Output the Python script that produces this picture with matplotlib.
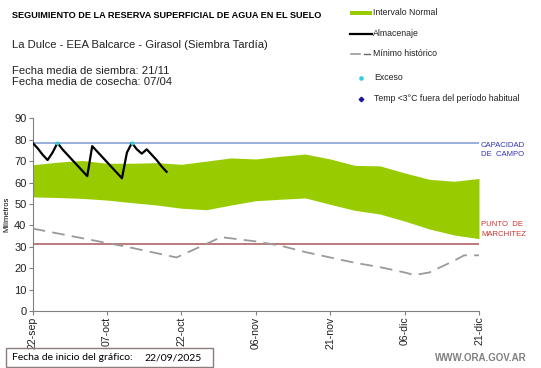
import matplotlib
matplotlib.use("Agg")
import matplotlib.pyplot as plt
from matplotlib.patches import Rectangle
from matplotlib.lines import Line2D

plt.rcParams['font.family'] = ['Liberation Sans', 'DejaVu Sans']

# ---- data ----
tick_days = [0, 15, 30, 45, 60, 75, 90]
tick_labels = ["22-sep", "07-oct", "22-oct", "06-nov", "21-nov", "06-dic", "21-dic"]

alm_days = list(range(28))
almacenaje = [78.5, 76, 73, 70.5, 74, 78.5, 75.5, 73, 70.5, 68, 65.5, 63,
              77, 74.5, 72, 69.5, 67, 64.5, 62, 74, 78.5, 75.5, 73.5, 75.5,
              73, 70.5, 67.5, 65]

exceso_days = [5, 20]
exceso_vals = [78.5, 78.5]

band_days = [0, 5, 10, 15, 20, 25, 30, 35, 40, 45, 50, 55, 60, 65, 70, 75, 80, 85, 90]
band_upper = [68.3, 69.5, 70.3, 69.0, 69.0, 69.3, 68.5, 70.0, 71.5, 71.0, 72.3,
              73.3, 71.0, 68.0, 67.8, 64.5, 61.5, 60.6, 61.9]
band_lower = [53.3, 53.0, 52.6, 51.8, 50.6, 49.5, 48.0, 47.3, 49.5, 51.5, 52.2,
              52.8, 49.8, 47.0, 45.3, 42.0, 38.3, 35.5, 33.8]

min_days = [0, 10, 20, 29, 38, 45, 50, 55, 60, 65, 70, 75, 77, 80, 85, 87, 90]
min_hist = [38.5, 34.0, 29.5, 25.0, 34.5, 32.5, 30.5, 27.5, 25.0, 22.5, 20.5,
            18.0, 16.8, 18.0, 23.5, 26.0, 26.0]

capacidad_campo = 78.5
punto_marchitez = 31.2

# ---- figure ----
W, H = 541, 368
fig = plt.figure(figsize=(W / 100, H / 100), dpi=100)
ax = fig.add_axes([32.7 / W, 1 - 311 / H, (479 - 32.7) / W, (311 - 118.3) / H])

ax.fill_between(band_days, band_lower, band_upper, color="#99CC00", lw=0, zorder=1)
ax.axhline(capacidad_campo, color="#8FA8D8", lw=1.3, zorder=2)
ax.axhline(punto_marchitez, color="#B87070", lw=1.3, zorder=2)
ax.plot(min_days, min_hist, color="#9A9A9A", lw=1.3, dashes=(7, 4), zorder=3)
ax.plot(alm_days, almacenaje, color="black", lw=1.6, zorder=4)
ax.scatter(exceso_days, exceso_vals, s=8, color="#33CCDD", zorder=5, lw=0)

ax.set_xlim(0, 90)
ax.set_ylim(0, 90)
ax.set_yticks(range(0, 91, 10))
ax.set_xticks(tick_days)
ax.set_xticklabels(tick_labels, rotation=90)
ax.tick_params(axis="both", labelsize=8, length=3, color="#808080", pad=1.5,
               labelcolor="#222222")
ax.tick_params(axis="x", labelsize=7.6, pad=1)
for s in ["top", "right"]:
    ax.spines[s].set_visible(False)
for s in ["left", "bottom"]:
    ax.spines[s].set_color("#808080")
ax.set_ylabel("Milímetros", fontsize=5.5, labelpad=3)

# right labels
fig.text(481 / W, 1 - 150 / H, "CAPACIDAD\nDE  CAMPO", color="#3333BB", fontsize=5.6,
         va="center", ha="left", linespacing=1.5)
fig.text(481 / W, 1 - 229.5 / H, "PUNTO  DE\nMARCHITEZ", color="#CC3333", fontsize=5.6,
         va="center", ha="left", linespacing=1.5)

# titles
fig.text(12 / W, 1 - 15 / H, "SEGUIMIENTO DE LA RESERVA SUPERFICIAL DE AGUA EN EL SUELO",
         fontsize=6.6, fontweight="bold", va="center", ha="left")
fig.text(12 / W, 1 - 44.5 / H, "La Dulce - EEA Balcarce - Girasol (Siembra Tardía)",
         fontsize=8.1, va="center", ha="left", color="#222222")
fig.text(12 / W, 1 - 71 / H, "Fecha media de siembra: 21/11",
         fontsize=8.1, va="center", ha="left", color="#222222")
fig.text(12 / W, 1 - 82 / H, "Fecha media de cosecha: 07/04",
         fontsize=8.1, va="center", ha="left", color="#222222")

# legend
lx0, lx1 = 350 / W, 372 / W
fig.patches.append(Rectangle((lx0, 1 - 15 / H), lx1 - lx0, 4.5 / H, transform=fig.transFigure,
                             color="#99CC00", lw=0))
fig.lines.append(Line2D([lx0, lx1], [1 - 33.5 / H] * 2, transform=fig.transFigure,
                        color="black", lw=1.6))
fig.lines.append(Line2D([351 / W, 360 / W], [1 - 53.5 / H] * 2, transform=fig.transFigure,
                        color="#9A9A9A", lw=1.2))
fig.lines.append(Line2D([363.5 / W, 369.5 / W], [1 - 53.5 / H] * 2, transform=fig.transFigure,
                        color="#666666", lw=1.0))
fig.lines.append(Line2D([361 / W], [1 - 77.5 / H], transform=fig.transFigure,
                        marker="o", ms=2.3, color="#33CCDD", lw=0))
fig.lines.append(Line2D([361 / W], [1 - 98.5 / H], transform=fig.transFigure,
                        marker="D", ms=2.3, color="#1A1A99", lw=0))
leg_items = [("Intervalo Normal", 12.5, 373), ("Almacenaje", 33.5, 373),
             ("Mínimo histórico", 53.5, 373), ("Exceso", 77.5, 374),
             ("Temp <3°C fuera del período habitual", 98.5, 374)]
for txt, yy, xx in leg_items:
    fig.text(xx / W, 1 - yy / H, txt, fontsize=6.3, va="center", ha="left", color="#222222")

# bottom box
fig.patches.append(Rectangle((6 / W, 1 - 366.5 / H), 207 / W, 18.5 / H,
                             transform=fig.transFigure, fill=False, ec="#8C7B7B", lw=1))
fig.text(12.5 / W, 1 - 358 / H, "Fecha de inicio del gráfico:", fontsize=7.5,
         va="center", ha="left", family=["Lato", "DejaVu Sans"])
fig.text(144 / W, 1 - 358 / H, "22/09/2025", fontsize=7.5,
         va="center", ha="left", family=["Lato", "DejaVu Sans"])
fig.text(527 / W, 1 - 358 / H, "WWW.ORA.GOV.AR", fontsize=7, fontweight="bold",
         color="#808080", va="center", ha="right")

fig.savefig("out.png", dpi=100)
